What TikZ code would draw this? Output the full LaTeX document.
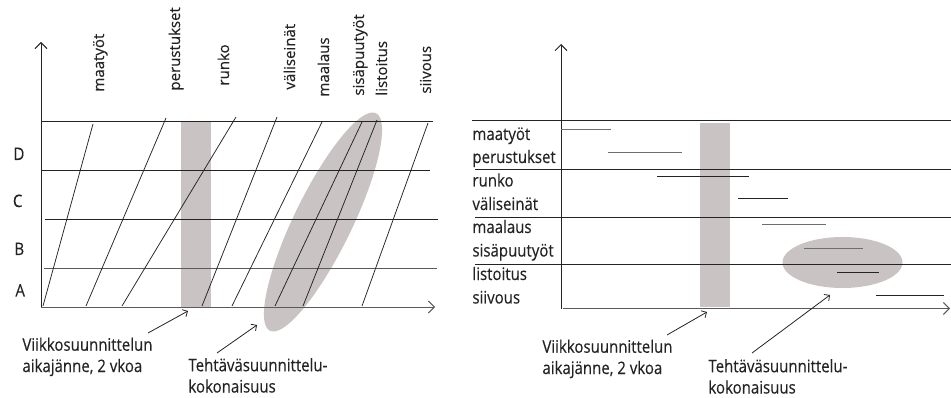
\documentclass[tikz,border=0pt]{standalone}
\usepackage{fontspec}
\setmainfont{Open Sans}[FakeBold=0.3]
\usetikzlibrary{arrows.meta}
\definecolor{band}{RGB}{201,195,195}
\definecolor{bargray}{RGB}{110,110,110}
\definecolor{ink}{RGB}{35,35,35}
\definecolor{axisgray}{RGB}{90,90,90}
\begin{document}
\begin{tikzpicture}[x=1pt,y=-1pt,
  line width=0.9pt,
  axis/.style={draw=ink, -{Straight Barb[length=6pt,width=12pt]}},
  gridline/.style={draw=ink},
  slant/.style={draw=ink, line width=0.75pt},
  task/.style={draw=bargray, line width=1pt},
  taskdark/.style={draw=ink, line width=1pt},
  shade/.style={fill=band, draw=none},
  lbl/.style={font=\fontsize{15}{18.5}\selectfont, inner sep=0pt, text=ink},
  col/.style={lbl, rotate=90, anchor=base west},
  row/.style={lbl, anchor=base west, yscale=1.15, transform shape},
  note/.style={lbl, anchor=base west, align=left, yscale=1.15, transform shape},
  pointer/.style={draw=ink, line width=0.8pt, -{Straight Barb[length=4pt,width=8pt]}},
]
\useasboundingbox (0,0) rectangle (951,398);

% ---------- left: line-of-balance chart ----------
% shaded areas
\fill[shade] (181,121) rectangle (211,307);
\fill[shade, rotate around={64:(323,222)}] (323,222) ellipse [x radius=121pt, y radius=29pt];

% axes
\coordinate (lo) at (41,307);
\coordinate (ly) at (41,42);
\coordinate (lx) at (435,307);
\draw[axis] (lo) -- (ly);
\draw[axis, draw=axisgray] (lo) -- (lx);

% location boundaries
\draw[gridline] (41,121) -- (433,121);
\draw[gridline] (41,170.5) -- (430,170.5);
\draw[gridline] (45,219) -- (438,219);
\draw[gridline, draw=axisgray] (44,268) -- (437,268);

% production lines
\draw[slant] (93,124) -- (43,306);
\draw[slant] (166,118) -- (86,306);
\draw[slant] (236,117) -- (122,306);
\draw[slant] (277,117) -- (202,306);
\draw[slant] (322,122) -- (232,306);
\draw[slant] (362,122) -- (275,306);
\draw[slant] (377,120) -- (303,306);
\draw[slant] (428,123) -- (362,306);

% task names
\node[col] (c1) at (104,92) {maatyöt};
\node[col] (c2) at (180,91) {perustukset};
\node[col] (c3) at (229,86) {runko};
\node[col] (c4) at (295,90) {väliseinät};
\node[col] (c5) at (329,97) {maalaus};
\node[col] (c6) at (364,96) {sisäpuutyöt};
\node[col] (c7) at (387,96) {listoitus};
\node[col] (c8) at (431,94) {siivous};

% locations
\node[row] (lD) at (13,160) {D};
\node[row] (lC) at (12.5,207) {C};
\node[row] (lB) at (14,255) {B};
\node[row] (lA) at (15,296.5) {A};

% explanations (anchored at the baseline of the last line)
\node[note] (n1) at (22,372) {Viikkosuunnittelun\\aikajänne, 2 vkoa};
\node[note] (n2) at (188,392.5) {Tehtäväsuunnittelu-\\kokonaisuus};
\coordinate (p1s) at (148,333);
\coordinate (p1e) at (188,311);
\coordinate (p2s) at (217,353);
\coordinate (p2e) at (257,325);
\draw[pointer] (p1s) -- (p1e);
\draw[pointer] (p2s) -- (p2e);

% ---------- right: bar schedule ----------
\fill[shade] (700,123) rectangle (730,307);
\fill[shade] (842.5,262.5) ellipse [x radius=60pt, y radius=25.5pt];

\coordinate (ro) at (561,309);
\coordinate (ry) at (561,44);
\coordinate (rx0) at (563,308.5);
\coordinate (rx) at (950,308.5);
\draw[axis] (ro) -- (ry);
\draw[axis, draw=axisgray] (rx0) -- (rx);

\draw[gridline] (472,120) -- (951,120);
\draw[gridline] (475,169) -- (951,169);
\draw[gridline] (475,217) -- (951,217);
\draw[gridline] (475,264) -- (951,264);

\node[row] (r1) at (472,140) {maatyöt};
\node[row] (r2) at (472,163) {perustukset};
\node[row] (r3) at (472,186.5) {runko};
\node[row] (r4) at (472,210) {väliseinät};
\node[row] (r5) at (472,233) {maalaus};
\node[row] (r6) at (472,256.5) {sisäpuutyöt};
\node[row] (r7) at (472,280) {listoitus};
\node[row] (r8) at (472,303.5) {siivous};

\draw[task] (561,130) -- (611,130);
\draw[task] (608,153) -- (682,153);
\draw[taskdark] (657,177) -- (749,177);
\draw[taskdark] (738,199) -- (788,199);
\draw[task] (762,225) -- (826,225);
\draw[task] (804,249) -- (863,249);
\draw[taskdark] (837,273) -- (879,273);
\draw[taskdark] (876,296) -- (944,296);

\node[note] (m1) at (542,374) {Viikkosuunnittelun\\aikajänne, 2 vkoa};
\node[note] (m2) at (708,393.5) {Tehtäväsuunnittelu-\\kokonaisuus};
\coordinate (q1s) at (667,335);
\coordinate (q1e) at (707,312);
\coordinate (q2s) at (752,353);
\coordinate (q2e) at (830,295);
\draw[pointer] (q1s) -- (q1e);
\draw[pointer] (q2s) -- (q2e);
\end{tikzpicture}
\end{document}
